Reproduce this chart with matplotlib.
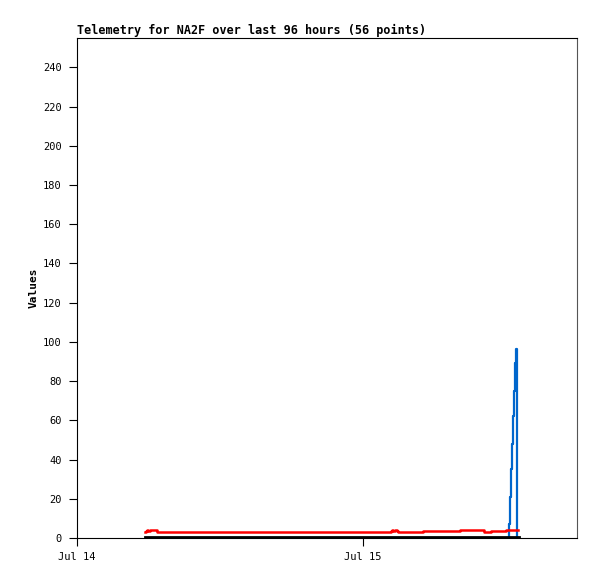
import datetime as dt
import matplotlib
matplotlib.use("Agg")
import matplotlib.pyplot as plt
import matplotlib.dates as mdates

# ── data (hours after Jul 14 00:00) ───────────────────────────────────────────
START = dt.datetime(2024, 7, 14)

red_hours = [5.71, 5.79, 5.87, 5.96, 6.04, 6.13, 6.63, 6.71,
             26.27, 26.35, 26.43, 26.52, 26.60, 26.69, 26.77, 26.85, 26.94,
             28.95, 29.04, 32.06, 32.14, 34.07, 34.15, 34.66, 34.74,
             35.92, 36.00, 37.01]
red_vals  = [3.0, 3.5, 4.0, 3.5, 3.5, 4.0, 4.0, 3.0,
             3.0, 3.5, 4.0, 3.5, 3.5, 4.0, 4.0, 3.5, 3.0,
             3.0, 3.5, 3.5, 4.0, 4.0, 3.2, 3.2, 3.6,
             3.6, 4.0, 4.0]

blue_hours = [36.09, 36.17, 36.25, 36.34, 36.42, 36.50, 36.59, 36.67,
              36.76, 36.84, 36.92, 37.01]
blue_vals  = [0, 0, 7, 21, 35, 48, 62, 75, 89, 96.5, 0, 0]

black_hours = [5.71, 37.07]
black_vals  = [0.5, 0.5]

y_ticks = list(range(0, 241, 20))
title   = "Telemetry for NA2F over last 96 hours (56 points)"


def to_dates(hours):
    return [START + dt.timedelta(hours=h) for h in hours]


# ── plot ──────────────────────────────────────────────────────────────────────
mono = "DejaVu Sans Mono"
fig = plt.figure(figsize=(5.97, 5.79), dpi=100)
ax = fig.add_axes([77 / 597, 41 / 579, 500 / 597, 500 / 579])

ax.plot(to_dates(blue_hours), blue_vals, color="#0066cc", lw=1.6,
        drawstyle="steps-post", zorder=2)
ax.plot(to_dates(red_hours), red_vals, color="#ff0000", lw=1.8,
        drawstyle="steps-post", zorder=3)
ax.plot(to_dates(black_hours), black_vals, color="black", lw=2.0, zorder=4,
        clip_on=False)

ax.set_xlim(START, START + dt.timedelta(days=500 / 286))
ax.set_ylim(0, 255)
ax.set_yticks(y_ticks)
ax.xaxis.set_major_locator(mdates.DayLocator())
ax.xaxis.set_major_formatter(mdates.DateFormatter("%b %d"))

ax.tick_params(axis="both", direction="out", length=6, width=0.8,
               labelsize=7.5, colors="black")
ax.tick_params(axis="y", pad=5)
ax.tick_params(axis="x", pad=4)
for lab in ax.get_xticklabels() + ax.get_yticklabels():
    lab.set_family(mono)
for side in ("left", "bottom", "top"):
    ax.spines[side].set_linewidth(0.8)
ax.spines["right"].set_color("#555555")

ax.set_ylabel("Values", family=mono, fontweight="bold", fontsize=8, labelpad=3)
ax.set_title(title, loc="left", family=mono, fontweight="bold", fontsize=8.45, pad=3)

fig.savefig("out.png", dpi=100)
